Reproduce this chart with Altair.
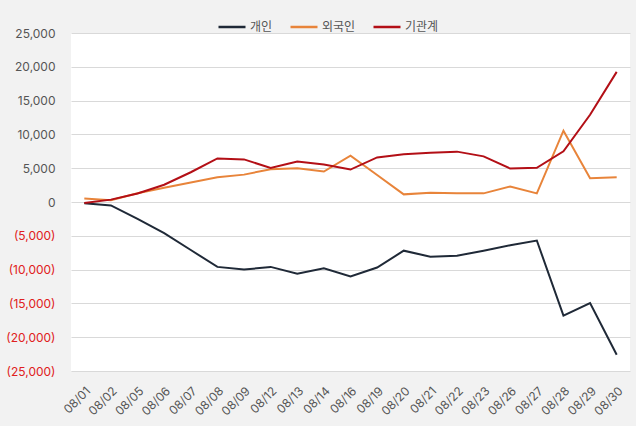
import altair as alt
import pandas as pd

dates = ["08/01", "08/02", "08/05", "08/06", "08/07", "08/08", "08/09", "08/12", "08/13", "08/14",
         "08/16", "08/19", "08/20", "08/21", "08/22", "08/23", "08/26", "08/27", "08/28", "08/29", "08/30"]
individual = [-200, -500, -2500, -4600, -7100, -9600, -10000, -9600, -10600, -9800,
              -11000, -9700, -7200, -8100, -7950, -7200, -6400, -5700, -16800, -14950, -22600]
foreign = [500, 250, 1300, 2100, 2900, 3650, 4050, 4850, 5000, 4500,
           6850, 4000, 1130, 1380, 1280, 1280, 2300, 1280, 10550, 3500, 3650]
institution = [-150, 350, 1250, 2550, 4400, 6450, 6300, 5050, 6000, 5550,
               4800, 6600, 7050, 7300, 7450, 6750, 4950, 5050, 7500, 12900, 19250]
series_names = ["개인", "외국인", "기관계"]
series_colors = ["#1f2937", "#e8843a", "#b30f16"]

rows = []
for name, vals in zip(series_names, [individual, foreign, institution]):
    for d, v in zip(dates, vals):
        rows.append({"date": d, "series": name, "value": v})
df = pd.DataFrame(rows)

font = "Inter, Noto Sans CJK KR"

chart = alt.Chart(df).mark_line(strokeWidth=2).encode(
    x=alt.X("date:O", sort=dates, title=None,
            scale=alt.Scale(type="point", padding=0.5),
            axis=alt.Axis(labelAngle=-45, labelFontSize=12, labelColor="#555555",
                          labelFont=font, ticks=False, domain=False, grid=False,
                          labelPadding=14)),
    y=alt.Y("value:Q", title=None,
            scale=alt.Scale(domain=[-25000, 25000], nice=False),
            axis=alt.Axis(values=list(range(-25000, 25001, 5000)),
                          labelExpr="datum.value < 0 ? '(' + format(-datum.value, ',') + ')' : format(datum.value, ',')",
                          labelColor=alt.condition("datum.value < 0", alt.value("#e02020"), alt.value("#555555")),
                          labelFontSize=12, labelFont=font, labelPadding=16,
                          ticks=False, domain=False, gridColor="#d9d9d9", gridWidth=1)),
    color=alt.Color("series:N", sort=series_names,
                    scale=alt.Scale(domain=series_names, range=series_colors),
                    legend=alt.Legend(title=None, orient="none", direction="horizontal",
                                      legendX=146, legendY=-21,
                                      symbolType="stroke", symbolSize=729, symbolStrokeWidth=2.5,
                                      labelFontSize=12, labelFont=font, labelColor="#555555",
                                      columnPadding=12, labelOffset=3)),
).properties(
    width=559, height=338,
    autosize=alt.AutoSizeParams(type="none"),
    padding={"left": 71, "top": 33, "right": 6, "bottom": 55},
    background="#f2f2f2",
).configure_view(fill="white", stroke=None)

chart.save("out.html", embed_options={"renderer": "svg", "actions": False})
